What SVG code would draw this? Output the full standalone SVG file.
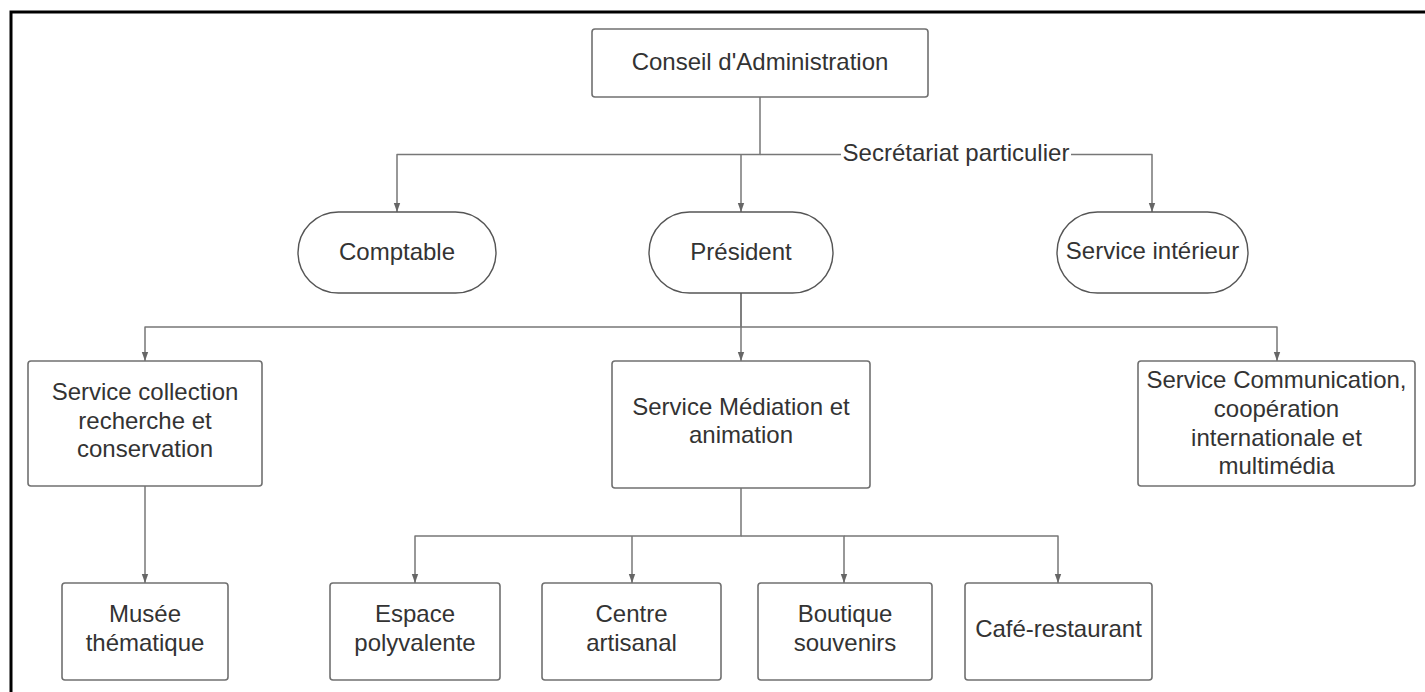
<svg xmlns="http://www.w3.org/2000/svg" width="1425" height="692" viewBox="0 0 1425 692">
<defs>
<style>
.box{fill:#fff;stroke:#707070;stroke-width:1.6}
.pill{fill:#fff;stroke:#555;stroke-width:1.4}
.t{font-family:"Liberation Sans",Arial,sans-serif;font-size:24px;fill:#333;text-anchor:middle}
.c{fill:none;stroke:#777;stroke-width:1.5;stroke-linejoin:round}
.a{marker-end:url(#arr)}
</style>
<marker id="arr" markerUnits="userSpaceOnUse" markerWidth="10" markerHeight="8" refX="9" refY="4" orient="auto">
<path d="M0,0.8 L9,4 L0,7.2 z" fill="#666"/>
</marker>
</defs>
<rect width="1425" height="692" fill="#fff"/>
<path d="M11,692 V12 H1425" fill="none" stroke="#000" stroke-width="3"/>

<g id="connectors">
<path class="c a" d="M760,97 V154.5 H397 V212"/>
<path class="c a" d="M741,154.5 V212"/>
<path class="c" d="M760,154.5 H841"/>
<path class="c a" d="M1071,154.5 H1152 V212"/>
<path class="c a" d="M741,293 V327 H145 V361"/>
<path class="c a" d="M741,293 V361"/>
<path class="c a" d="M741,327 H1277 V361"/>
<path class="c a" d="M145,486 V583"/>
<path class="c a" d="M741,488 V536 H415 V583"/>
<path class="c a" d="M632,536 V583"/>
<path class="c a" d="M741,536 H844 V583"/>
<path class="c a" d="M844,536 H1058 V583"/>
<text class="t" x="956" y="161">Secrétariat particulier</text>
</g>

<g id="conseil">
<rect class="box" x="592" y="29" width="336" height="68" rx="3"/>
<text class="t" x="760" y="70">Conseil d'Administration</text>
</g>
<g id="comptable">
<rect class="pill" x="298" y="212" width="198" height="81" rx="40.5"/>
<text class="t" x="397" y="260">Comptable</text>
</g>
<g id="president">
<rect class="pill" x="649" y="212" width="184" height="81" rx="40.5"/>
<text class="t" x="741" y="260">Président</text>
</g>
<g id="service-interieur">
<rect class="pill" x="1057" y="212" width="191" height="81" rx="40.5"/>
<text class="t" x="1152.5" y="259">Service intérieur</text>
</g>
<g id="collection">
<rect class="box" x="28" y="361" width="234" height="125" rx="3"/>
<text class="t" x="145" y="400">Service collection</text>
<text class="t" x="145" y="428.5">recherche et</text>
<text class="t" x="145" y="457">conservation</text>
</g>
<g id="mediation">
<rect class="box" x="612" y="361" width="258" height="127" rx="3"/>
<text class="t" x="741" y="415">Service Médiation et</text>
<text class="t" x="741" y="443">animation</text>
</g>
<g id="communication">
<rect class="box" x="1138" y="361" width="277" height="125" rx="3"/>
<text class="t" x="1276.5" y="388">Service Communication,</text>
<text class="t" x="1276.5" y="416.8">coopération</text>
<text class="t" x="1276.5" y="445.6">internationale et</text>
<text class="t" x="1276.5" y="474.4">multimédia</text>
</g>
<g id="musee">
<rect class="box" x="62" y="583" width="166" height="97" rx="3"/>
<text class="t" x="145" y="622">Musée</text>
<text class="t" x="145" y="650.5">thématique</text>
</g>
<g id="espace">
<rect class="box" x="330" y="583" width="170" height="97" rx="3"/>
<text class="t" x="415" y="622">Espace</text>
<text class="t" x="415" y="650.5">polyvalente</text>
</g>
<g id="centre">
<rect class="box" x="542" y="583" width="179" height="97" rx="3"/>
<text class="t" x="631.5" y="622">Centre</text>
<text class="t" x="631.5" y="650.5">artisanal</text>
</g>
<g id="boutique">
<rect class="box" x="758" y="583" width="174" height="97" rx="3"/>
<text class="t" x="845" y="622">Boutique</text>
<text class="t" x="845" y="650.5">souvenirs</text>
</g>
<g id="cafe">
<rect class="box" x="965" y="583" width="187" height="97" rx="3"/>
<text class="t" x="1058.5" y="637">Café-restaurant</text>
</g>
</svg>
